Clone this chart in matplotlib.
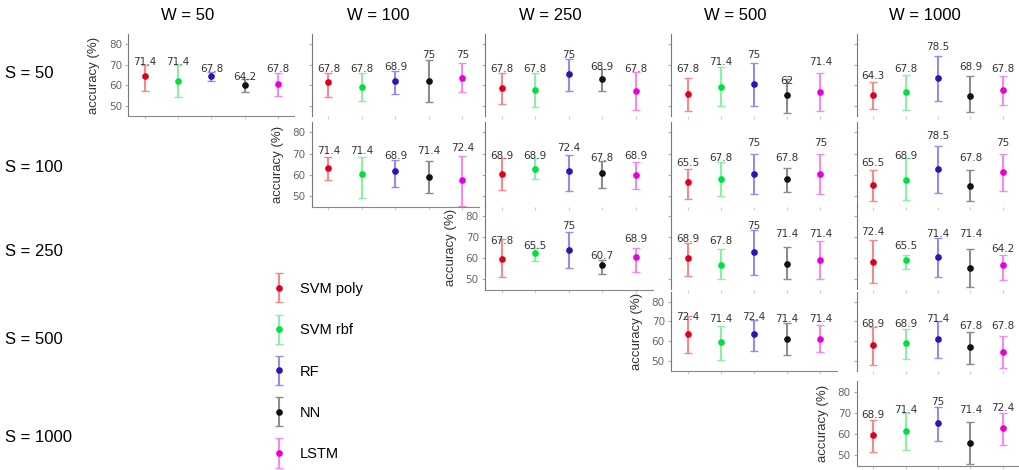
import numpy as np
import matplotlib
matplotlib.use("Agg")
import matplotlib.pyplot as plt
from matplotlib.container import ErrorbarContainer
from matplotlib.legend_handler import HandlerErrorbar

# window sizes (columns) and step sizes (rows)
W_values = [50, 100, 250, 500, 1000]
S_values = [50, 100, 250, 500, 1000]
models = ["SVM poly", "SVM rbf", "RF", "NN", "LSTM"]

# mean accuracy per (S, W), order follows `models`
mean_acc = {
    (50, 50): [64.5, 61.8, 64.5, 60.2, 60.7],
    (50, 100): [61.3, 59.0, 62.1, 61.8, 63.7],
    (50, 250): [58.6, 57.7, 65.3, 62.9, 56.9],
    (50, 500): [55.8, 59.0, 60.6, 55.0, 56.4],
    (50, 1000): [55.2, 56.5, 63.5, 54.6, 57.7],
    (100, 100): [63.4, 60.2, 61.7, 59.0, 57.4],
    (100, 250): [60.2, 62.6, 61.8, 61.0, 59.8],
    (100, 500): [56.6, 57.9, 60.6, 57.9, 60.6],
    (100, 1000): [55.4, 57.4, 62.6, 54.7, 61.3],
    (250, 250): [59.5, 62.4, 63.7, 56.6, 60.3],
    (250, 500): [60.0, 56.8, 62.9, 57.3, 59.2],
    (250, 1000): [57.9, 58.9, 60.5, 55.2, 56.8],
    (500, 500): [63.8, 59.3, 63.5, 61.3, 61.3],
    (500, 1000): [58.2, 59.0, 61.3, 56.8, 54.3],
    (1000, 1000): [59.5, 61.4, 65.4, 56.0, 62.7],
}

# lower end of the error bar
low_acc = {
    (50, 50): [57.0, 54.0, 61.8, 56.5, 54.5],
    (50, 100): [54.2, 52.1, 55.7, 51.8, 56.6],
    (50, 250): [50.5, 49.2, 56.9, 56.9, 47.6],
    (50, 500): [47.3, 50.0, 50.0, 46.5, 47.3],
    (50, 1000): [48.5, 47.7, 52.0, 46.8, 50.1],
    (100, 100): [57.5, 49.2, 54.2, 51.6, 45.5],
    (100, 250): [53.0, 58.2, 52.2, 53.9, 53.5],
    (100, 500): [48.7, 50.0, 51.1, 51.8, 51.1],
    (100, 1000): [47.9, 48.2, 51.4, 47.9, 52.3],
    (250, 250): [51.1, 58.4, 55.2, 52.3, 53.5],
    (250, 500): [51.6, 49.9, 51.9, 49.9, 49.9],
    (250, 1000): [47.9, 54.9, 51.1, 46.0, 49.5],
    (500, 500): [54.0, 50.2, 55.2, 53.0, 54.3],
    (500, 1000): [47.7, 51.0, 51.5, 48.5, 46.3],
    (1000, 1000): [51.6, 52.4, 56.8, 46.0, 55.1],
}

# upper end of the error bar
high_acc = {
    (50, 50): [70.0, 70.0, 66.6, 63.0, 66.0],
    (50, 100): [66.1, 65.8, 66.9, 72.3, 70.7],
    (50, 250): [66.1, 65.8, 72.6, 67.8, 66.6],
    (50, 500): [63.7, 68.7, 71.1, 62.9, 65.8],
    (50, 1000): [61.7, 64.9, 74.3, 64.3, 64.3],
    (100, 100): [68.6, 68.4, 67.2, 66.5, 68.8],
    (100, 250): [67.7, 67.7, 69.2, 66.5, 66.1],
    (100, 500): [62.9, 66.1, 69.7, 63.4, 69.7],
    (100, 1000): [62.5, 67.7, 73.5, 62.5, 70.0],
    (250, 250): [68.9, 64.9, 72.4, 59.2, 64.9],
    (250, 500): [67.3, 64.0, 73.4, 65.3, 68.1],
    (250, 1000): [68.5, 61.6, 69.2, 64.0, 61.6],
    (500, 500): [72.7, 67.7, 70.5, 69.0, 68.2],
    (500, 1000): [67.3, 66.0, 70.2, 64.7, 62.7],
    (1000, 1000): [66.7, 69.8, 73.0, 65.9, 69.8],
}

# best accuracy, written above each model
max_acc = {
    (50, 50): [71.4, 71.4, 67.8, 64.2, 67.8],
    (50, 100): [67.8, 67.8, 68.9, 75, 75],
    (50, 250): [67.8, 67.8, 75, 68.9, 67.8],
    (50, 500): [67.8, 71.4, 75, 62, 71.4],
    (50, 1000): [64.3, 67.8, 78.5, 68.9, 67.8],
    (100, 100): [71.4, 71.4, 68.9, 71.4, 72.4],
    (100, 250): [68.9, 68.9, 72.4, 67.8, 68.9],
    (100, 500): [65.5, 67.8, 75, 67.8, 75],
    (100, 1000): [65.5, 68.9, 78.5, 67.8, 75],
    (250, 250): [67.8, 65.5, 75, 60.7, 68.9],
    (250, 500): [68.9, 67.8, 75, 71.4, 71.4],
    (250, 1000): [72.4, 65.5, 71.4, 71.4, 64.2],
    (500, 500): [72.4, 71.4, 72.4, 71.4, 71.4],
    (500, 1000): [68.9, 68.9, 71.4, 67.8, 67.8],
    (1000, 1000): [68.9, 71.4, 75, 71.4, 72.4],
}

marker_colors = ["#e0001c", "#00e040", "#2a14b4", "#111111", "#e600e0"]
bar_colors = ["#f28a8a", "#8af0a4", "#9a8ae6", "#8c8c8c", "#f28af0"]

FW, FH = 1019, 470
fig = plt.figure(figsize=(FW / 100, FH / 100), dpi=100)

# panel layout in pixels
col_left = [128.4, 311.7, 485.0, 671.0, 857.0]
col_width = [166.0, 167.5, 167.5, 166.0, 162.0]
row_span = [(34.2, 115.7), (121.7, 206.7), (205.2, 289.5), (291.8, 370.7), (381.2, 466.0)]

x = np.arange(len(models))
handles = None
for r, s in enumerate(S_values):
    for c, w in enumerate(W_values):
        if c < r:
            continue
        top, bot = row_span[r]
        ax = fig.add_axes([col_left[c] / FW, 1 - bot / FH,
                           col_width[c] / FW, (bot - top) / FH])
        ax.patch.set_alpha(0)
        m = np.array(mean_acc[(s, w)])
        lo = np.array(low_acc[(s, w)])
        hi = np.array(high_acc[(s, w)])
        conts = []
        for i in range(len(models)):
            cont = ax.errorbar(x[i], m[i], yerr=[[m[i] - lo[i]], [hi[i] - m[i]]],
                               fmt="o", color=marker_colors[i], ecolor=bar_colors[i],
                               elinewidth=1.5, capsize=3, capthick=1.0,
                               markersize=3.8)
            conts.append(cont)
            ax.text(x[i], max_acc[(s, w)][i], f"{max_acc[(s, w)][i]:g}",
                    ha="center", va="center", fontsize=7.5, color="#333333")
        if handles is None:
            handles = conts
        ax.set_xlim(-0.5, 4.5)
        ax.set_ylim(45, 85)
        ax.set_yticks([50, 60, 70, 80])
        ax.set_xticks(x)
        ax.spines["top"].set_visible(False)
        ax.spines["right"].set_visible(False)
        ax.spines["left"].set_color("#777777")
        ax.spines["bottom"].set_color("#888888")
        ax.tick_params(axis="x", length=2.5, color="#cccccc", labelbottom=False)
        ax.tick_params(axis="y", length=2.5, width=0.8, color="#aaaaaa",
                       labelsize=7.5, labelcolor="#666666", pad=2)
        if c == r:
            ax.set_ylabel("accuracy (%)", fontsize=9.5, color="#333333",
                          family="Liberation Sans")
            ax.yaxis.set_label_coords(-28 / col_width[c], 0.5)
        else:
            ax.spines["bottom"].set_visible(False)
            ax.tick_params(axis="y", labelleft=False)

# column and row headers
header_x = [188, 378, 550, 735, 925]
for hx, w in zip(header_x, W_values):
    fig.text(hx / FW, 1 - 15 / FH, f"W = {w}", ha="center", va="center",
             fontsize=12, family="Liberation Sans")
row_y = [73, 167, 252, 340, 438]
for ry, s in zip(row_y, S_values):
    fig.text(5 / FW, 1 - ry / FH, f"S = {s}", ha="left", va="center",
             fontsize=12, family="Liberation Sans")

fig.legend(handles, models, loc="upper left",
           bbox_to_anchor=(270 / FW, 1 - 282 / FH), frameon=False,
           prop={"family": "Liberation Sans", "size": 10.5},
           handlelength=1.2, handletextpad=0.85, labelspacing=1.87,
           borderpad=0, borderaxespad=0,
           handler_map={ErrorbarContainer: HandlerErrorbar(yerr_size=1.0)})

fig.savefig("out.png", dpi=100)
